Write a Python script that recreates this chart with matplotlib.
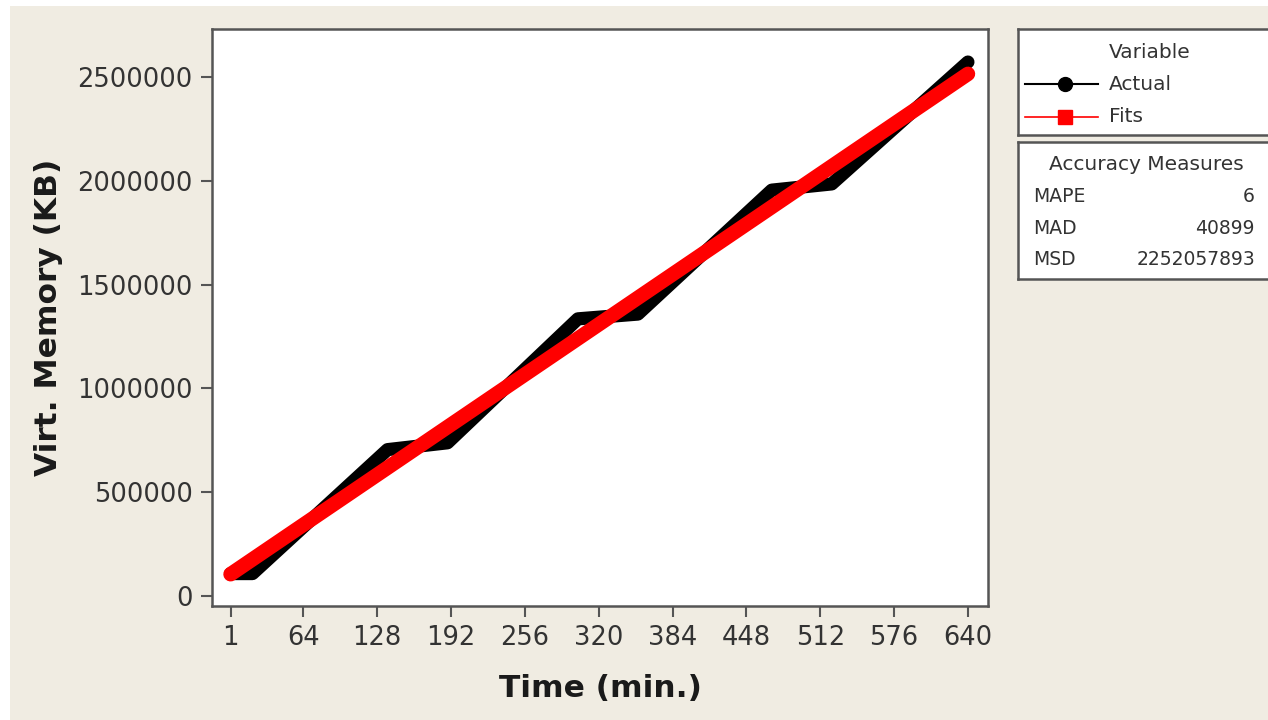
import matplotlib as mpl
mpl.use("Agg")
import matplotlib.pyplot as plt
from matplotlib.lines import Line2D
from matplotlib.patches import Rectangle

# Trend analysis data
time_knots = [1, 20, 137, 189, 302, 354, 470, 522, 640]
actual_kb = [108000, 108000, 705000, 738000, 1335000, 1358000, 1955000, 1985000, 2572000]
fit_time = [1, 640]
fit_kb = [105000, 2515000]

x_ticks = [1, 64, 128, 192, 256, 320, 384, 448, 512, 576, 640]
y_ticks = [0, 500000, 1000000, 1500000, 2000000, 2500000]

acc_names = ["MAPE", "MAD", "MSD"]
acc_values = ["6", "40899", "2252057893"]

bg = "#f0ece2"
txt = "#333333"
frame = "#555555"

W, H = 1268, 720
fig = plt.figure(figsize=(W / 100, H / 100), dpi=100)
fig.patch.set_facecolor("white")
# beige panel (thin white strip at top/left like the screenshot)
fig.patches.append(Rectangle((10 / W, 0), 1, 1 - 6 / H, transform=fig.transFigure,
                             facecolor=bg, edgecolor="none", zorder=-10))

ax = fig.add_axes([212 / W, 1 - 606 / H, (988 - 212) / W, (606 - 29) / H])
ax.set_facecolor("white")
ax.plot(time_knots, actual_kb, color="black", lw=9.5,
        solid_capstyle="round", solid_joinstyle="round", zorder=2)
ax.plot(fit_time, fit_kb, color="#ff0000", lw=10.5,
        solid_capstyle="round", zorder=3)

ax.set_xlim(-15.1, 657.4)
ax.set_ylim(-48200, 2731200)
ax.set_xticks(x_ticks)
ax.set_xticklabels([str(t) for t in x_ticks])
ax.set_yticks(y_ticks)
ax.set_yticklabels([str(v) for v in y_ticks])
ax.tick_params(direction="out", length=8, width=1.5, color=frame,
               labelsize=18.5, labelcolor=txt, pad=6)
for s in ax.spines.values():
    s.set_color(frame)
    s.set_linewidth(1.8)

ax.set_xlabel("Time (min.)", fontsize=22.5, fontweight="bold", color="#1a1a1a", labelpad=16)
ax.set_ylabel("Virt. Memory (KB)", fontsize=22.5, fontweight="bold", color="#1a1a1a", labelpad=10)

# legend box
def box_axes(y0, y1):
    b = fig.add_axes([1018 / W, 1 - y1 / H, (1290 - 1018) / W, (y1 - y0) / H])
    b.set_xlim(1018, 1290)
    b.set_ylim(y1, y0)
    b.set_xticks([])
    b.set_yticks([])
    b.set_facecolor("white")
    for s in b.spines.values():
        s.set_color(frame)
        s.set_linewidth(1.8)
    return b

lg = box_axes(29, 135)
lg.text(1150, 52, "Variable", ha="center", va="center", fontsize=14.5, color=txt)
lg.add_line(Line2D([1025, 1098], [84, 84], color="black", lw=1.5))
lg.plot([1065], [84], "o", color="black", ms=10)
lg.text(1109, 84, "Actual", ha="left", va="center", fontsize=14.5, color=txt)
lg.add_line(Line2D([1025, 1098], [117, 117], color="#ff0000", lw=1.2))
lg.plot([1065], [117], "s", color="#ff0000", ms=10)
lg.text(1109, 117, "Fits", ha="left", va="center", fontsize=14.5, color=txt)

am = box_axes(142, 279)
am.text(1146, 165, "Accuracy Measures", ha="center", va="center", fontsize=14.5, color=txt)
for i, (n, v) in enumerate(zip(acc_names, acc_values)):
    yy = 197 + i * 31.5
    am.text(1033, yy, n, ha="left", va="center", fontsize=13.5, color=txt)
    am.text(1255, yy, v, ha="right", va="center", fontsize=13.5, color=txt)

fig.savefig("out.png", dpi=100, facecolor=fig.get_facecolor())
